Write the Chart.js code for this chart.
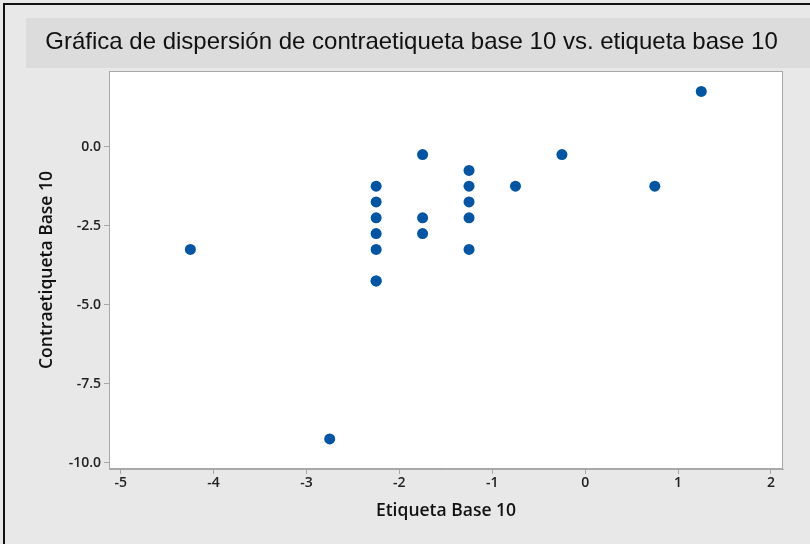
<!DOCTYPE html>
<html>
<head>
<meta charset="utf-8">
<script src="https://cdn.jsdelivr.net/npm/chart.js@4/dist/chart.umd.min.js"></script>
<style>
  body { margin: 0; background: #e8e8e8; }
  canvas { display: block; }
</style>
</head>
<body>
<canvas id="chart" width="810" height="544"></canvas>
<script>
// values
var etiqueta = [-4.25, -2.75, -2.25, -2.25, -2.25, -2.25, -2.25, -2.25, -2.25, -1.75, -1.75, -1.75, -1.25, -1.25, -1.25, -1.25, -1.25, -0.75, -0.25, 0.75, 1.25];
var contra   = [-3.25, -9.25, -1.25, -1.75, -2.25, -2.75, -3.25, -4.25, -4.25, -0.25, -2.25, -2.75, -0.75, -1.25, -1.75, -2.25, -3.25, -1.25, -0.25, -1.25, 1.75];
var xTicks = [-5, -4, -3, -2, -1, 0, 1, 2];
var yTicks = [-10, -7.5, -5, -2.5, 0];

var titulo = 'Gráfica de dispersión de contraetiqueta base 10 vs. etiqueta base 10';
var tituloX = 'Etiqueta Base 10';
var tituloY = 'Contraetiqueta Base 10';

var puntos = etiqueta.map(function(x, i) { return { x: x, y: contra[i] }; });

// gray page, title band, white plot box
var fondo = {
  id: 'fondo',
  afterLayout: function(chart) {
    // title is centred on the band, not on the canvas minus right padding
    if (chart.titleBlock) {
      chart.titleBlock.left = 0;
      chart.titleBlock.right = 823;
    }
  },
  beforeDraw: function(chart) {
    var ctx = chart.ctx, a = chart.chartArea;
    ctx.save();
    ctx.fillStyle = '#e8e8e8';
    ctx.fillRect(0, 0, chart.width, chart.height);
    ctx.fillStyle = '#dcdcdc';
    ctx.fillRect(26, 18, chart.width - 26, 50);
    ctx.strokeStyle = '#111';
    ctx.lineWidth = 2;
    ctx.strokeRect(4, 4, chart.width + 10, chart.height + 10);
    ctx.fillStyle = '#fff';
    ctx.fillRect(a.left, a.top, a.right - a.left, a.bottom - a.top);
    ctx.strokeStyle = '#a8a8a8';
    ctx.lineWidth = 1;
    ctx.strokeRect(a.left + 0.5, a.top + 0.5, a.right - a.left - 1, a.bottom - a.top - 1);
    ctx.restore();
  }
};

Chart.defaults.font.family = '"Open Sans", sans-serif';
Chart.defaults.color = '#222';

new Chart(document.getElementById('chart'), {
  type: 'scatter',
  data: {
    datasets: [{
      data: puntos,
      backgroundColor: '#0055a5',
      borderWidth: 0,
      pointRadius: 5.5
    }]
  },
  options: {
    responsive: false,
    animation: false,
    layout: { padding: { left: 0, right: 27, top: 0, bottom: 0 } },
    plugins: {
      legend: { display: false },
      tooltip: { enabled: false },
      title: {
        display: true,
        text: titulo,
        color: '#111',
        font: { family: '"Liberation Sans", Arial, sans-serif', size: 24, weight: 'normal', lineHeight: 1.2 },
        padding: { top: 27.6, bottom: 14.6 }
      }
    },
    scales: {
      x: {
        type: 'linear',
        min: -5.126,
        max: 2.13,
        afterBuildTicks: function(s) { s.ticks = xTicks.map(function(v) { return { value: v }; }); },
        afterFit: function(s) { s.height = 75; },
        border: { color: '#a8a8a8' },
        grid: { drawOnChartArea: false, tickLength: 5, color: '#a8a8a8' },
        ticks: { padding: 1, font: { size: 14, weight: '600' }, color: '#222' },
        title: { display: true, text: tituloX, color: '#111', font: { size: 17.5, weight: '600', lineHeight: 1.2 }, padding: { top: 0, bottom: 22.5 } }
      },
      y: {
        type: 'linear',
        min: -10.2,
        max: 2.395,
        afterBuildTicks: function(s) { s.ticks = yTicks.map(function(v) { return { value: v }; }); },
        afterFit: function(s) { s.width = 109; },
        border: { color: '#a8a8a8' },
        grid: { drawOnChartArea: false, tickLength: 5, color: '#a8a8a8' },
        ticks: { padding: 3, font: { size: 14, weight: '600' }, color: '#222', callback: function(v) { return v.toFixed(1); } },
        title: { display: true, text: tituloY, color: '#111', font: { size: 17.5, weight: '600', lineHeight: 1.2 }, padding: { top: 36.5, bottom: 0 } }
      }
    }
  },
  plugins: [fondo]
});
</script>
</body>
</html>
